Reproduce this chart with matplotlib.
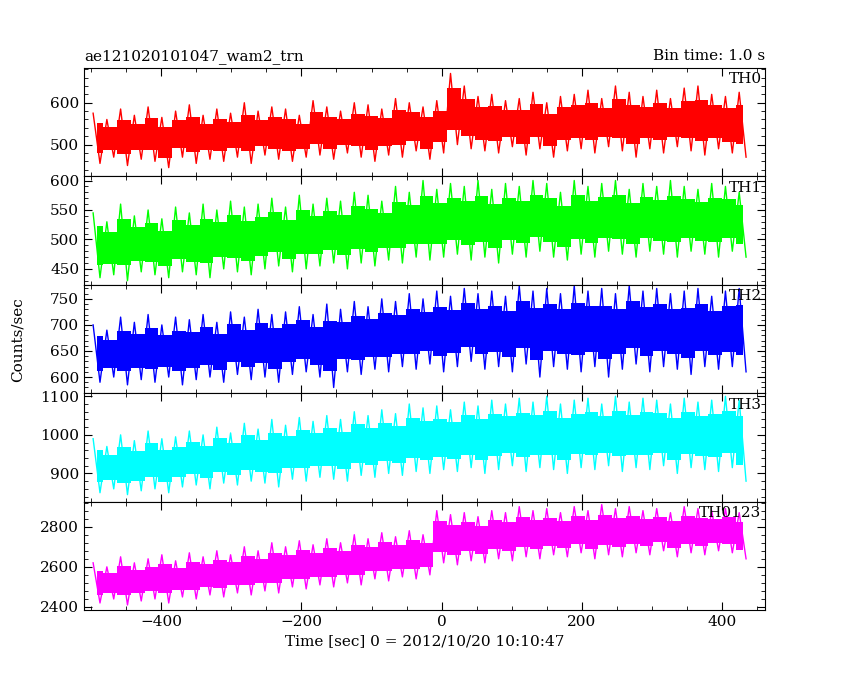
import numpy as np
import matplotlib
matplotlib.use("Agg")
import matplotlib.pyplot as plt
from matplotlib.ticker import AutoMinorLocator

plt.rcParams['font.family'] = ['DejaVu Serif']

# peaks (hi) and troughs (lo) read per ~20 s bin, starting at t = -497 s
th0_hi = [575,560,585,570,590,565,580,595,570,585,575,600,580,590,585,570,605,590,580,600,595,585,610,600,590,605,670,640,615,620,605,610,625,600,615,620,630,610,640,625,615,630,610,635,640,620,615,625]
th0_lo = [455,470,450,465,460,445,470,455,465,460,470,455,475,465,460,470,475,465,480,470,460,475,470,485,465,480,500,490,485,480,495,475,490,470,485,490,480,495,485,470,490,480,495,485,475,490,480,470]
th1_hi = [545,530,560,540,550,535,555,545,560,550,565,555,560,570,555,575,560,570,565,580,575,565,590,580,600,585,595,590,600,585,595,590,600,595,580,600,590,595,600,585,595,590,600,590,585,595,590,580]
th1_lo = [435,440,430,445,440,435,445,440,435,450,445,440,450,455,445,450,455,460,450,460,455,465,460,470,465,470,475,465,470,460,475,470,480,470,465,475,470,480,475,470,480,475,470,480,475,470,480,470]
th2_hi = [700,690,715,705,720,700,715,710,720,705,725,715,730,720,725,735,720,740,730,745,735,750,745,760,750,765,755,770,760,765,755,775,765,770,760,775,765,770,760,775,765,770,760,765,770,755,765,770]
th2_lo = [590,600,585,595,590,600,585,595,600,590,605,595,600,590,605,610,600,580,610,605,615,610,620,615,625,610,620,630,615,620,610,625,600,620,615,610,620,600,615,625,610,620,615,605,620,615,620,610]
th3_hi = [990,970,1000,985,1010,990,995,1010,1000,1020,1005,1030,1015,1040,1025,1045,1035,1050,1040,1060,1050,1065,1055,1080,1070,1075,1065,1085,1075,1090,1080,1095,1085,1100,1080,1090,1095,1080,1100,1085,1095,1090,1080,1095,1085,1090,1100,1090]
th3_lo = [850,860,845,855,860,850,865,870,860,875,870,880,875,865,885,880,890,885,880,895,890,900,895,905,900,910,905,915,900,910,920,905,915,910,900,915,910,920,905,915,910,920,900,915,910,905,915,880]
tha_hi = [2620,2600,2650,2620,2640,2660,2630,2670,2650,2680,2660,2700,2680,2720,2700,2730,2710,2740,2720,2760,2740,2770,2750,2780,2760,2880,2860,2870,2850,2880,2870,2900,2880,2890,2870,2900,2880,2910,2890,2900,2880,2890,2870,2900,2890,2880,2890,2870]
tha_lo = [2420,2440,2410,2430,2440,2420,2450,2440,2460,2450,2470,2460,2480,2470,2500,2490,2510,2500,2520,2510,2540,2530,2550,2540,2560,2620,2610,2630,2620,2640,2630,2650,2640,2660,2650,2670,2640,2660,2650,2670,2660,2680,2650,2670,2660,2680,2670,2640]

names = ["TH0", "TH1", "TH2", "TH3", "TH0123"]
colors = ["#ff0000", "#00ff00", "#0000ff", "#00ffff", "#ff00ff"]
his = [th0_hi, th1_hi, th2_hi, th3_hi, tha_hi]
los = [th0_lo, th1_lo, th2_lo, th3_lo, tha_lo]
ylims = [(424, 683), (423, 607), (569, 777), (827, 1108), (2385, 2925)]
yticks = [[500, 600], [450, 500, 550, 600], [600, 650, 700, 750], [900, 1000, 1100], [2400, 2600, 2800]]

fig = plt.figure(figsize=(8.5, 6.8), dpi=100)
axes = fig.subplots(5, 1, sharex=True,
                    gridspec_kw=dict(left=84/850, right=765/850, top=1-68/680, bottom=1-610/680, hspace=0))

for ax, name, c, hi, lo, yl, yt in zip(axes, names, colors, his, los, ylims, yticks):
    n = min(len(hi), len(lo))
    hi = np.array(hi[:n], float)
    lo = np.array(lo[:n], float)
    t = -497 + 19.6 * np.arange(n)
    tt = np.empty(2 * n)
    yy = np.empty(2 * n)
    tt[0::2] = t
    tt[1::2] = t + 9.8
    yy[0::2] = hi
    yy[1::2] = lo
    # dense core of the band
    mid = (hi + lo) / 2
    half = (hi - lo) * 0.3
    ax.fill_between(t + 4.9, mid - half, mid + half, color=c, lw=0, step="mid")
    ax.plot(tt, yy, color=c, lw=1)
    ax.set_ylim(*yl)
    ax.set_yticks(yt)
    ax.set_xlim(-510, 461)
    ax.yaxis.set_minor_locator(AutoMinorLocator(5))
    ax.xaxis.set_minor_locator(AutoMinorLocator(4))
    ax.tick_params(direction="in", which="both", top=True, right=True, labelsize=11)
    ax.tick_params(which="major", length=6)
    ax.tick_params(which="minor", length=3)
    ax.text(0.995, 0.96, name, transform=ax.transAxes, ha="right", va="top", fontsize=11)

axes[-1].set_xticks([-400, -200, 0, 200, 400])
axes[0].set_title("ae121020101047_wam2_trn", loc="left", fontsize=11)
axes[0].set_title("Bin time: 1.0 s", loc="right", fontsize=11)
axes[-1].set_xlabel("Time [sec] 0 = 2012/10/20 10:10:47", fontsize=11)
fig.text(0.012, 0.5, "Counts/sec", rotation=90, va="center", fontsize=11)

fig.savefig("out.png", dpi=100)
